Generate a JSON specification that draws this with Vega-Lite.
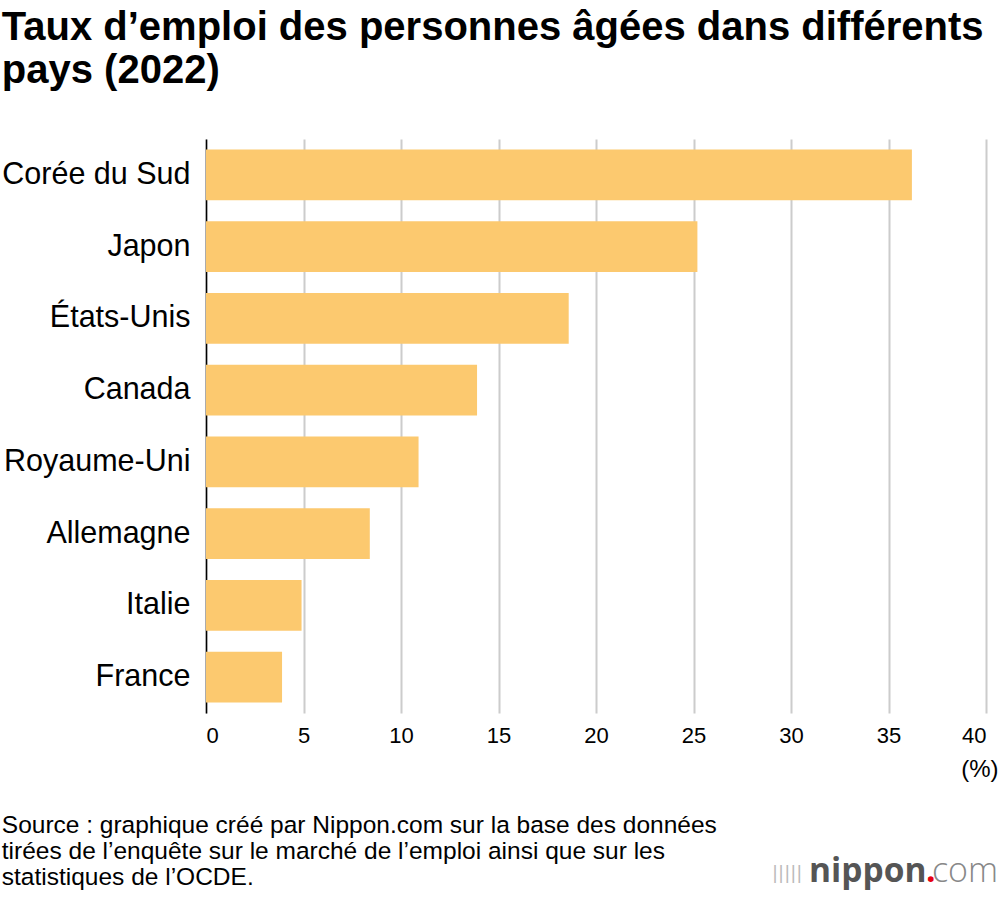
{
  "$schema": "https://vega.github.io/schema/vega-lite/v6.json",
  "background": "white",
  "padding": {"left": 1, "top": 8, "right": 2, "bottom": 5},
  "config": {
    "font": "Liberation Sans",
    "view": {"stroke": null},
    "concat": {"spacing": 0}
  },
  "title": {
    "text": ["Taux d’emploi des personnes âgées dans différents", "pays (2022)"],
    "anchor": "start",
    "frame": "bounds",
    "fontSize": 40,
    "fontWeight": "bold",
    "font": "Liberation Sans",
    "color": "#000000",
    "lineHeight": 43,
    "offset": 48
  },
  "vconcat": [
    {
      "width": 780,
      "height": 574,
      "title": {
        "text": ["Source : graphique créé par Nippon.com sur la base des données", "tirées de l’enquête sur le marché de l’emploi ainsi que sur les", "statistiques de l’OCDE."],
        "orient": "bottom",
        "anchor": "start",
        "frame": "bounds",
        "fontSize": 24.5,
        "fontWeight": "normal",
        "font": "Liberation Sans",
        "color": "#000000",
        "lineHeight": 26,
        "offset": -75
      },
      "data": {
        "values": [
          {"pays": "Corée du Sud", "taux": 36.2},
          {"pays": "Japon", "taux": 25.2},
          {"pays": "États-Unis", "taux": 18.6},
          {"pays": "Canada", "taux": 13.9},
          {"pays": "Royaume-Uni", "taux": 10.9},
          {"pays": "Allemagne", "taux": 8.4},
          {"pays": "Italie", "taux": 4.9},
          {"pays": "France", "taux": 3.9}
        ]
      },
      "layer": [
        {
          "mark": {"type": "bar", "color": "#FCC96F"},
          "encoding": {
            "y": {
              "field": "pays",
              "type": "nominal",
              "sort": null,
              "scale": {"domain": ["Corée du Sud", "Japon", "États-Unis", "Canada", "Royaume-Uni", "Allemagne", "Italie", "France"], "paddingInner": 0.29, "paddingOuter": 0.145},
              "axis": {
                "title": null,
                "domain": true,
                "domainColor": "#000000",
                "domainWidth": 1.5,
                "ticks": false,
                "labelFontSize": 30.5,
                "labelLimit": 400,
                "labelColor": "#000000",
                "labelPadding": 16,
                "labelFont": "Liberation Sans"
              }
            },
            "x": {
              "field": "taux",
              "type": "quantitative",
              "scale": {"domain": [0, 40]},
              "axis": {
                "values": [0, 5, 10, 15, 20, 25, 30, 35, 40],
                "title": "(%)",
                "titleFontSize": 24,
                "titleFontWeight": "normal",
                "titleColor": "#000000",
                "titleAnchor": "end",
                "titleAlign": "right",
                "titleX": 792,
                "titleY": 63,
                "titleBaseline": "alphabetic",
                "domain": false,
                "ticks": false,
                "grid": true,
                "gridColor": "#CCCCCC",
                "gridWidth": 2,
                "labelFontSize": 22,
                "labelColor": "#000000",
                "labelPadding": 12,
                "labelFont": "Liberation Sans"
              }
            }
          }
        },
        {
          "data": {"values": [{"t": "nippon", "pays": "France", "x": 40}]},
          "mark": {"type": "text", "align": "left", "baseline": "alphabetic", "font": "Open Sans", "fontWeight": "bold", "fontSize": 33.5, "color": "#555555", "dx": -177, "dy": 205},
          "encoding": {"text": {"field": "t"}, "x": {"field": "x", "type": "quantitative"}, "y": {"field": "pays", "type": "nominal", "sort": null}}
        },
        {
          "data": {"values": [{"t": ".", "pays": "France", "x": 40}]},
          "mark": {"type": "text", "align": "left", "baseline": "alphabetic", "font": "Open Sans", "fontWeight": "bold", "fontSize": 33.5, "color": "#E60012", "dx": -60, "dy": 205},
          "encoding": {"text": {"field": "t"}, "x": {"field": "x", "type": "quantitative"}, "y": {"field": "pays", "type": "nominal", "sort": null}}
        },
        {
          "data": {"values": [{"t": "com", "pays": "France", "x": 40}]},
          "mark": {"type": "text", "align": "right", "baseline": "alphabetic", "font": "Open Sans", "fontWeight": 300, "fontSize": 34, "color": "#888888", "dx": 12, "dy": 205},
          "encoding": {"text": {"field": "t"}, "x": {"field": "x", "type": "quantitative"}, "y": {"field": "pays", "type": "nominal", "sort": null}}
        },
        {
          "data": {"values": [{"t": "|||||", "pays": "France", "x": 40}]},
          "mark": {"type": "text", "align": "left", "baseline": "alphabetic", "font": "DejaVu Sans", "fontSize": 18, "color": "#BBBBBB", "dx": -214, "dy": 202},
          "encoding": {"text": {"field": "t"}, "x": {"field": "x", "type": "quantitative"}, "y": {"field": "pays", "type": "nominal", "sort": null}}
        }
      ]
    }
  ]
}
